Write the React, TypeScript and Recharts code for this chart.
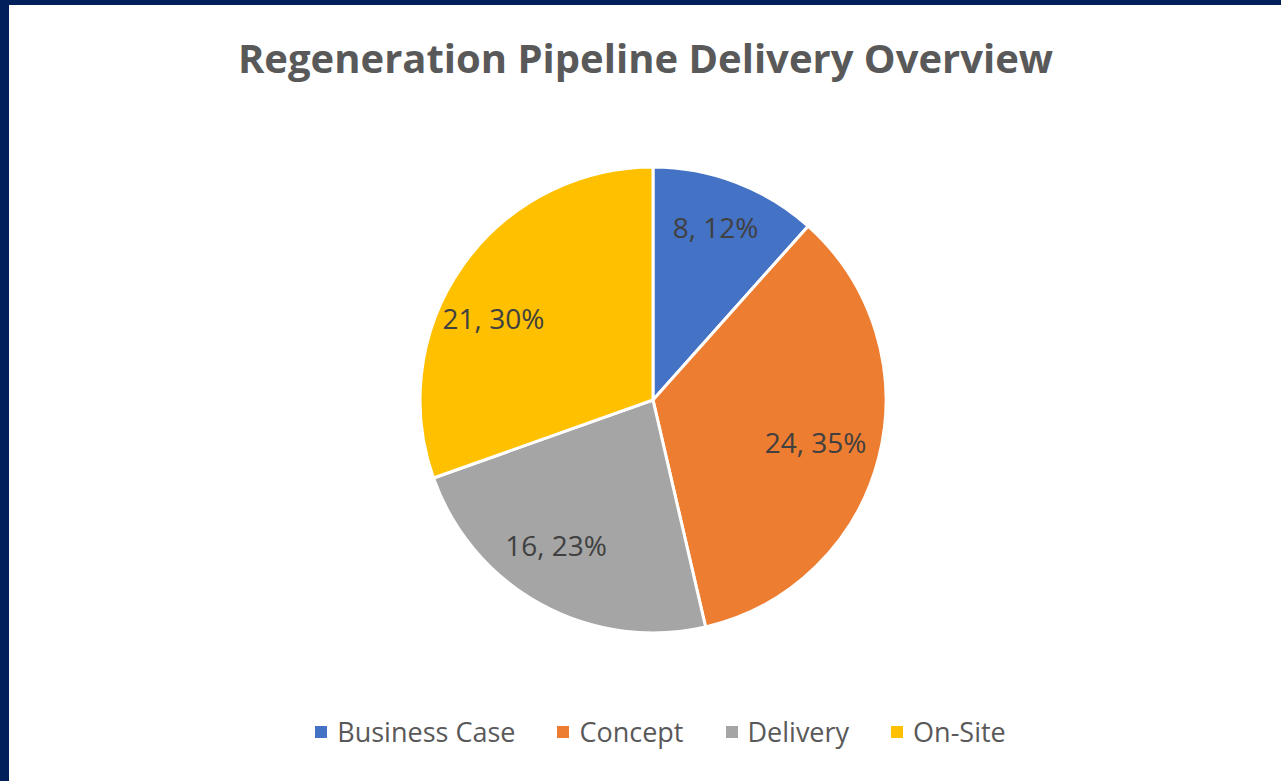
import React from "react";
import { PieChart, Pie, Cell, Legend } from "recharts";

const categories = ["Business Case", "Concept", "Delivery", "On-Site"];
const counts = [8, 24, 16, 21];
const colors = ["#4472C4", "#ED7D31", "#A5A5A5", "#FFC000"];

const data = categories.map((name, i) => ({ name, value: counts[i] }));

// label placement tweaks (radius fraction, clockwise angle shift in degrees)
const labelRadius = [0.79, 0.72, 0.75, 0.77];
const labelShift = [-1, 0, 5, -8];

const RADIAN = Math.PI / 180;
const FONT = "'Open Sans', 'DejaVu Sans', sans-serif";

const renderLabel = (props: any) => {
  const { cx, cy, midAngle, outerRadius, value, percent, index } = props;
  const r = outerRadius * labelRadius[index];
  const a = midAngle - labelShift[index];
  const x = cx + r * Math.cos(-a * RADIAN);
  const y = cy + r * Math.sin(-a * RADIAN);
  return (
    <text
      x={x}
      y={y}
      fill="#404040"
      fontSize={28}
      fontFamily={FONT}
      textAnchor="middle"
      dominantBaseline="central"
    >
      {`${value}, ${Math.round(percent * 100)}%`}
    </text>
  );
};

const renderLegend = () => (
  <div
    style={{
      display: "flex",
      justifyContent: "center",
      gap: 42,
      fontFamily: FONT,
      fontSize: 27,
      color: "#595959",
    }}
  >
    {categories.map((c, i) => (
      <div key={c} style={{ display: "flex", alignItems: "center" }}>
        <span
          style={{
            display: "inline-block",
            width: 12,
            height: 12,
            background: colors[i],
            marginRight: 10,
          }}
        />
        {c}
      </div>
    ))}
  </div>
);

export default function App() {
  return (
    <div
      style={{
        position: "absolute",
        left: 0,
        top: 0,
        width: 1281,
        height: 781,
        background: "#fff",
        overflow: "hidden",
      }}
    >
      <div style={{ position: "absolute", left: 0, top: 0, width: 1281, height: 5, background: "#001F5B" }} />
      <div style={{ position: "absolute", left: 0, top: 0, width: 9, height: 781, background: "#001F5B" }} />
      <div
        style={{
          position: "absolute",
          left: 0,
          top: 30,
          width: 1291,
          textAlign: "center",
          fontFamily: FONT,
          fontWeight: 700,
          fontSize: 40,
          color: "#595959",
        }}
      >
        Regeneration Pipeline Delivery Overview
      </div>
      <div style={{ position: "absolute", left: 0, top: 0 }}>
        <PieChart width={1281} height={781} margin={{ top: 0, right: 0, bottom: 0, left: 0 }}>
          <Pie
            data={data}
            dataKey="value"
            nameKey="name"
            cx={653}
            cy={400}
            outerRadius={233}
            startAngle={90}
            endAngle={-270}
            stroke="#ffffff"
            strokeWidth={3}
            label={renderLabel}
            labelLine={false}
            isAnimationActive={false}
          >
            {data.map((d, i) => (
              <Cell key={d.name} fill={colors[i]} />
            ))}
          </Pie>
          <Legend
            content={renderLegend}
            verticalAlign="bottom"
            wrapperStyle={{ top: 713, left: 0, width: 1321, bottom: "auto" }}
          />
        </PieChart>
      </div>
    </div>
  );
}
